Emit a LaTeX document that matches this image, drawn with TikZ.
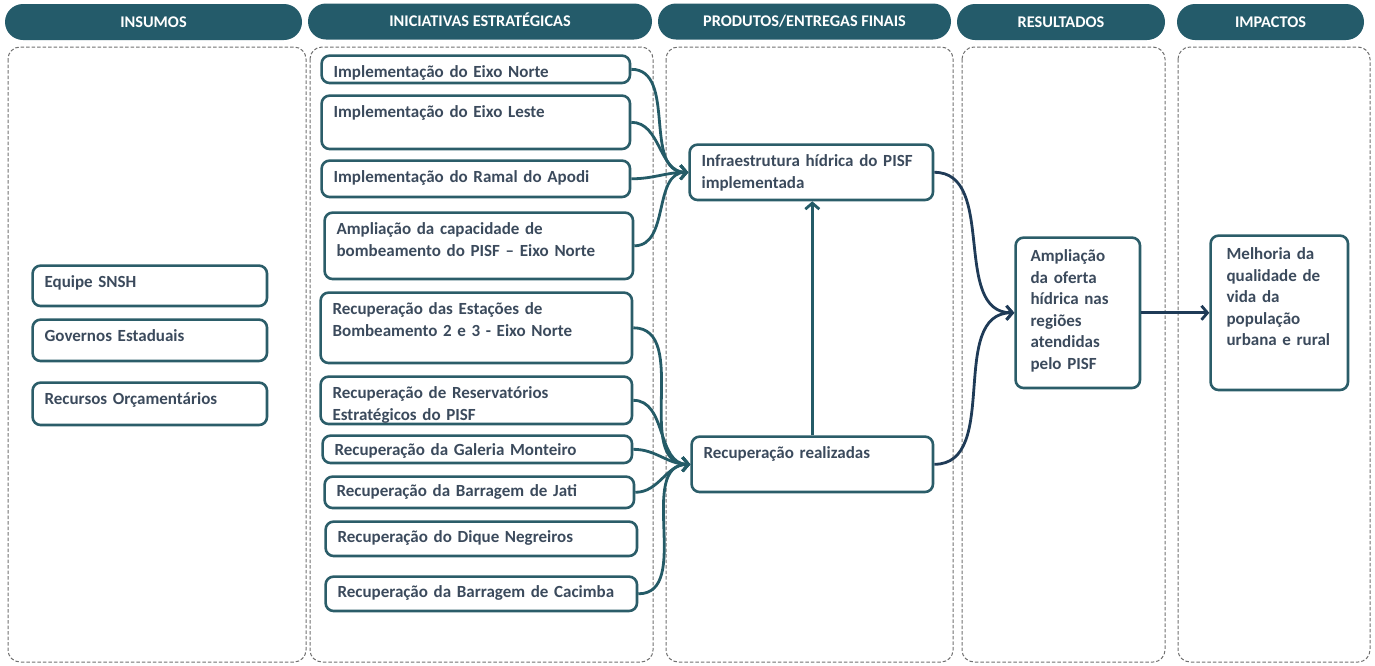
\documentclass[tikz,border=0pt]{standalone}
\usepackage{fontspec}
\setmainfont{Carlito}
\usetikzlibrary{arrows.meta}
\definecolor{hdrfill}{HTML}{245B6A}
\definecolor{boxline}{HTML}{2B5D69}
\definecolor{boxtext}{HTML}{3B4A5C}
\definecolor{lnkteal}{HTML}{245B67}
\definecolor{lnknavy}{HTML}{1F3B57}
\definecolor{colgray}{HTML}{707070}
\newcommand{\boxfont}{\fontsize{17}{21.5}\selectfont\bfseries}
\newcommand{\hdrfont}{\fontsize{16.3}{18}\selectfont\bfseries}
\begin{document}
\begin{tikzpicture}[x=1pt,y=-1pt,
	hdr/.style={fill=hdrfill, rounded corners=18pt, text=white, font=\hdrfont, minimum height=36pt, inner sep=0pt, text height=10.5pt, text depth=0pt},
	colbox/.style={draw=colgray, line width=1pt, dash pattern=on 3.5pt off 2pt, rounded corners=12pt},
	bx/.style={draw=boxline, line width=2.6pt, rounded corners=8pt, anchor=north west, align=left, inner xsep=12pt, inner ysep=3pt, text height=19pt, font=\boxfont, text=boxtext},
	lnk/.style={draw=lnkteal, line width=2.8pt, -{Straight Barb[length=6pt,width=14pt]}},
	lnkd/.style={lnk, draw=lnknavy}]
	\useasboundingbox (0,0) rectangle (1375,665);
	
	% headers
	\node[hdr, minimum width=297pt] (hIns) at (153.5,22) {INSUMOS};
	\node[hdr, minimum width=344pt] (hIni) at (480,21.5) {INICIATIVAS ESTRATÉGICAS};
	\node[hdr, minimum width=293pt] (hPro) at (804.5,21.5) {PRODUTOS/ENTREGAS FINAIS};
	\node[hdr, minimum width=208pt] (hRes) at (1061,22) {RESULTADOS};
	\node[hdr, minimum width=187pt] (hImp) at (1270.5,22) {IMPACTOS};
	
	% columns
	\draw[colbox] (8,47) rectangle (306,662);
	\draw[colbox] (310,47) rectangle (653,662);
	\draw[colbox] (666,47) rectangle (953,662);
	\draw[colbox] (962,47) rectangle (1165,662);
	\draw[colbox] (1178,47) rectangle (1370,662);
	
	% insumos
	\node[bx, text width=210.4pt, text depth=15.4pt] (eq)  at (31.3,264.3) {Equipe SNSH};
	\node[bx, text width=210.4pt, text depth=16.4pt] (gov) at (31.3,318.3) {Governos Estaduais};
	\node[bx, text width=210.4pt, text depth=17.4pt] (orc) at (31.3,381.3) {Recursos Orçamentários};
	
	% iniciativas
	\node[bx, text width=284.4pt, text depth=2.4pt]  (eNor) at (320.3,54.3)  {Implementação do Eixo Norte};
	\node[bx, text width=284.4pt, text depth=28.4pt] (eLes) at (320.3,94.3)  {Implementação do Eixo Leste};
	\node[bx, text width=284.4pt, text depth=11.4pt] (apo)  at (320.3,159.3) {Implementação do Ramal do Apodi};
	\node[bx, text width=284.4pt, text depth=41.4pt] (bomb) at (323.3,211.3) {Ampliação da capacidade de\\bombeamento do PISF – Eixo Norte};
	\node[bx, text width=287.4pt, text depth=45.4pt] (est)  at (319.3,291.3) {Recuperação das Estações de\\Bombeamento 2 e 3 - Eixo Norte};
	\node[bx, text width=287.4pt, text depth=22.4pt] (resv) at (319.3,375.3) {Recuperação de Reservatórios\\Estratégicos do PISF};
	\node[bx, text width=285.4pt, text height=17pt, text depth=4.4pt]  (gal) at (321.3,434.3) {Recuperação da Galeria Monteiro};
	\node[bx, text width=285.4pt, text height=17pt, text depth=8.4pt]  (jat) at (323.3,475.3) {Recuperação da Barragem de Jati};
	\node[bx, text width=287.4pt, text height=18pt, text depth=10.4pt] (diq) at (324.3,520.3) {Recuperação do Dique Negreiros};
	\node[bx, text width=287.4pt, text height=18pt, text depth=10.4pt] (cac) at (324.3,575.3) {Recuperação da Barragem de Cacimba};
	
	% produtos
	\node[bx, text width=219.4pt, text depth=30.4pt] (infra) at (688.3,143.3) {Infraestrutura hídrica do PISF\\implementada};
	\node[bx, text width=217.4pt, text depth=30.4pt] (recr)  at (690.3,435.3) {Recuperação realizadas};
	
	% resultados e impactos
	\node[bx, inner xsep=15pt, text width=94.4pt, text height=21pt, text depth=123.4pt] (ofer) at (1014.3,236.3) {Ampliação\\da oferta\\hídrica nas\\regiões\\atendidas\\pelo PISF};
	\node[bx, inner xsep=16pt, text width=105.4pt, text height=21pt, text depth=127.4pt] (melh) at (1209.3,234.3) {Melhoria da\\qualidade de\\vida da\\população\\urbana e rural};
	
	\draw[lnk] (eNor.east) to[out=0,in=180] (infra.west);
	\draw[lnk] (eLes.east) to[out=0,in=180] (infra.west);
	\draw[lnk] (apo.east)  to[out=0,in=180] (infra.west);
	\draw[lnk] (bomb.east) to[out=0,in=180] (infra.west);
	
	\draw[lnk] (est.east)  to[out=0,in=180] (recr.west);
	\draw[lnk] (resv.east) to[out=0,in=180] (recr.west);
	\draw[lnk] (gal.east)  to[out=0,in=180] (recr.west);
	\draw[lnk] (jat.east)  to[out=0,in=180] (recr.west);
	\draw[lnk] (cac.east)  to[out=0,in=180] (recr.west);
	
	\draw[lnk] (recr.north) -- (recr.north |- infra.south);
	
	\draw[lnkd] (infra.east) to[out=0,in=180] (ofer.west);
	\draw[lnkd] (recr.east)  to[out=0,in=180] (ofer.west);
	\draw[lnkd] (ofer.east) -- (melh.west);
\end{tikzpicture}
\end{document}
